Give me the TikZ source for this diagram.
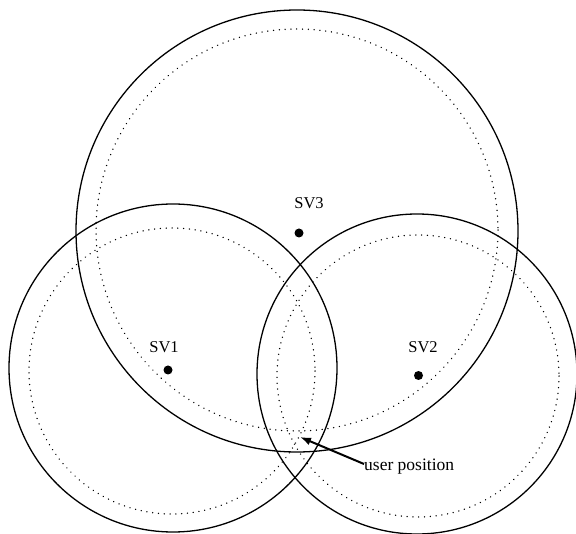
\documentclass[tikz,border=0pt]{standalone}
\usepackage{fontspec}
\setmainfont{Liberation Serif}
\usetikzlibrary{arrows.meta}
\tikzset{
  rangecircle/.style={draw=black, line width=1.3pt},
  rangedotted/.style={draw=black, line width=1.5pt, line cap=round, dash pattern=on 0.01pt off 5.8pt},
  svdot/.style={circle, fill=black, inner sep=0pt, minimum size=9pt},
  svlabel/.style={font=\fontsize{16.5}{18}\selectfont, inner sep=0pt},
  ulabel/.style={font=\fontsize{17.5}{19}\selectfont, inner sep=0pt, anchor=west},
  pointer/.style={line width=2pt, -{Latex[length=11pt,width=8pt]}}
}
\begin{document}
\begin{tikzpicture}[x=1pt,y=-1pt]
\useasboundingbox (0,0) rectangle (576,534);
% centres of the range circles
\coordinate (c3) at (297,231);
\coordinate (c1) at (173,368);
\coordinate (c2) at (417,374);
\coordinate (d3) at (297,230);
\coordinate (d1) at (172,371);
\coordinate (d2) at (418,376);
% solid circles
\draw[rangecircle] (c3) circle[radius=221];
\draw[rangecircle] (c1) circle[radius=164];
\draw[rangecircle] (c2) circle[radius=160];
% dotted circles
\draw[rangedotted] (d3) circle[radius=201];
\draw[rangedotted] (d1) circle[radius=143];
\draw[rangedotted] (d2) circle[radius=141];
% satellites
\node[svdot] (sv1) at (168,370) {};
\node[svdot] (sv2) at (418.5,375.5) {};
\node[svdot] (sv3) at (299,233) {};
\node[svlabel] (l1) at (164,347) {SV1};
\node[svlabel] (l2) at (423,347) {SV2};
\node[svlabel] (l3) at (309,203) {SV3};
% user position
\coordinate (upos) at (300,437);
\node[ulabel] (user) at (364,467) {user position};
\draw[pointer] ([yshift=3pt]user.west) -- (upos);
\end{tikzpicture}
\end{document}
